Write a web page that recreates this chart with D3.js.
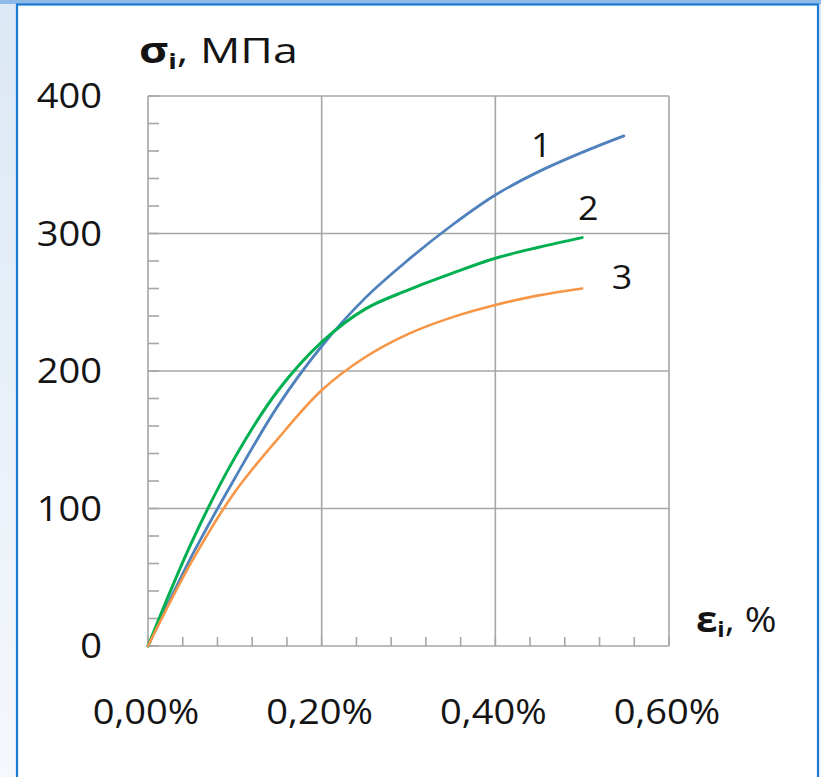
<!DOCTYPE html>
<html>
<head>
<meta charset="utf-8">
<style>
  html, body { margin: 0; padding: 0; background: #fff; }
  svg { display: block; font-family: "Open Sans", "Liberation Sans", Arial, sans-serif; }
</style>
</head>
<body>
<div id="chart"></div>
<script src="https://cdn.jsdelivr.net/npm/d3@7"></script>
<script>
// strain, % and stress, MPa for the three curves
const strain1 = [0, 0.05, 0.1, 0.15, 0.2, 0.25, 0.3, 0.35, 0.4, 0.45, 0.5, 0.548];
const stress1 = [0, 65, 122, 175, 218, 253, 281, 306, 328, 345, 359, 371];

const strain2 = [0, 0.05, 0.1, 0.15, 0.2, 0.25, 0.3, 0.35, 0.4, 0.45, 0.5];
const stress2 = [0, 75, 137, 186, 221, 245, 259, 271, 282, 290, 297];

const strain3 = [0, 0.05, 0.1, 0.15, 0.2, 0.25, 0.3, 0.35, 0.4, 0.45, 0.5];
const stress3 = [0, 61, 112, 151, 186, 210, 227, 239, 248, 255, 260];

const seriesNames = ["1", "2", "3"];
const seriesColors = ["#4f81bd", "#00b050", "#f79646"];
const seriesWidths = [2.8, 3, 2.6];
// where the curve numbers sit (strain %, stress MPa)
const labelStrain = [0.453, 0.507, 0.546];
const labelStress = [356, 310, 260];

const yTicks = [0, 100, 200, 300, 400];
const xTicks = [0, 0.2, 0.4, 0.6];
const xTickLabels = ["0,00%", "0,20%", "0,40%", "0,60%"];

const W = 821, H = 777;
const SX = 1.12; // the source text is a little wide

const svg = d3.select("#chart").append("svg")
  .attr("width", W)
  .attr("height", H);

// outer pale blue frame
const defs = svg.append("defs");
const grad = defs.append("linearGradient")
  .attr("id", "bg").attr("x1", 0).attr("y1", 0).attr("x2", 0).attr("y2", 1);
grad.append("stop").attr("offset", "0%").attr("stop-color", "#dce8f5");
grad.append("stop").attr("offset", "100%").attr("stop-color", "#f5f8fc");
svg.append("rect").attr("width", W).attr("height", H).attr("fill", "url(#bg)");
svg.append("rect").attr("x", 0).attr("y", 0).attr("width", W).attr("height", 4).attr("fill", "#8fb9e6");
svg.append("rect")
  .attr("x", 17).attr("y", 4.5).attr("width", 801).attr("height", H)
  .attr("fill", "#fff")
  .attr("stroke", "#1a7ad4").attr("stroke-width", 2.2);

const x = d3.scaleLinear().domain([0, 0.6]).range([148, 669]);
const y = d3.scaleLinear().domain([0, 400]).range([646, 96]);

const grid = svg.append("g").attr("stroke", "#a6a6a6").attr("stroke-width", 1.6);

// minor ticks
grid.selectAll("line.ym")
  .data(d3.range(0, 401, 20))
  .join("line")
  .attr("x1", x(0)).attr("x2", x(0) + 11)
  .attr("y1", d => y(d)).attr("y2", d => y(d));
grid.selectAll("line.xm")
  .data(d3.range(0, 0.6001, 0.04))
  .join("line")
  .attr("x1", d => x(d)).attr("x2", d => x(d))
  .attr("y1", y(0)).attr("y2", y(0) - 9);

// major grid
grid.selectAll("line.yg")
  .data(yTicks)
  .join("line")
  .attr("x1", x(0)).attr("x2", x(0.6))
  .attr("y1", d => y(d)).attr("y2", d => y(d));
grid.selectAll("line.xg")
  .data(xTicks)
  .join("line")
  .attr("x1", d => x(d)).attr("x2", d => x(d))
  .attr("y1", y(0)).attr("y2", y(400));

const ink = "#141414";
const place = (px, py, sx) => `translate(${px},${py}) scale(${sx || SX},1)`;

// tick labels
svg.append("g").selectAll("text")
  .data(yTicks)
  .join("text")
  .attr("transform", d => place(102, y(d) + 12))
  .attr("text-anchor", "end")
  .attr("font-size", 34)
  .attr("fill", ink)
  .text(d => d);

svg.append("g").selectAll("text")
  .data(xTicks)
  .join("text")
  .attr("transform", d => place(x(d) - 2, 724))
  .attr("text-anchor", "middle")
  .attr("font-size", 34)
  .attr("fill", ink)
  .text((d, i) => xTickLabels[i]);

// curves
const series = [
  strain1.map((s, i) => [s, stress1[i]]),
  strain2.map((s, i) => [s, stress2[i]]),
  strain3.map((s, i) => [s, stress3[i]])
];

const line = d3.line()
  .x(d => x(d[0]))
  .y(d => y(d[1]))
  .curve(d3.curveCatmullRom.alpha(0.5));

svg.append("g").selectAll("path")
  .data(series)
  .join("path")
  .attr("d", line)
  .attr("fill", "none")
  .attr("stroke", (d, i) => seriesColors[i])
  .attr("stroke-width", (d, i) => seriesWidths[i])
  .attr("stroke-linecap", "round");

svg.append("g").selectAll("text")
  .data(seriesNames)
  .join("text")
  .attr("transform", (d, i) => place(x(labelStrain[i]), y(labelStress[i])))
  .attr("text-anchor", "middle")
  .attr("font-size", 32)
  .attr("fill", ink)
  .text(d => d);

// axis titles
const yt = svg.append("text").attr("transform", place(139, 63, 1.28)).attr("font-size", 35).attr("fill", ink);
yt.append("tspan").attr("font-weight", "bold").text("σ");
yt.append("tspan").attr("font-weight", "bold").attr("font-size", 22).attr("dy", 6).text("i");
yt.append("tspan").attr("dy", -6).text(", МПа");

const xt = svg.append("text").attr("transform", place(696, 632, 1.1)).attr("font-size", 35).attr("fill", ink);
xt.append("tspan").attr("font-weight", "bold").text("ε");
xt.append("tspan").attr("font-weight", "bold").attr("font-size", 22).attr("dy", 5).text("i");
xt.append("tspan").attr("dy", -5).text(", %");
</script>
</body>
</html>
